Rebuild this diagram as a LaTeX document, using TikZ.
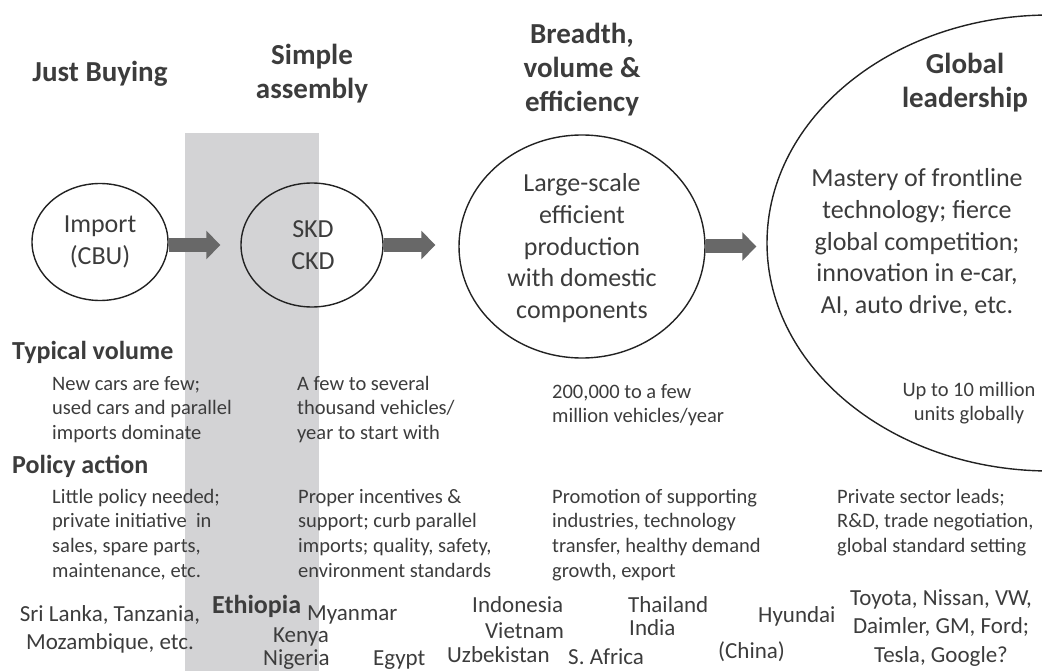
\documentclass[tikz,border=0pt]{standalone}
\usepackage{fontspec}
\setmainfont{Carlito}
\usetikzlibrary{shapes.geometric,arrows.meta}
\definecolor{txt}{HTML}{3C3C3C}
\definecolor{band}{HTML}{D3D3D5}
\definecolor{arr}{HTML}{686868}
\definecolor{edge}{HTML}{222222}
\newcommand\LeftLines[1]{\vtop{\halign{##\hfil\cr#1\crcr}}}
\newcommand\MidLines[1]{\vtop{\halign{\hfil##\hfil\cr#1\crcr}}}
\tikzset{
  head/.style={font=\fontsize{29}{34}\selectfont\bfseries, text=txt, inner sep=0, anchor=base},
  inner/.style={font=\fontsize{26}{31.6}\selectfont, text=txt, inner sep=0, anchor=base},
  rowlabel/.style={font=\fontsize{26}{30}\selectfont\bfseries, text=txt, inner sep=0, anchor=base west},
  body/.style={font=\fontsize{20.5}{24.8}\selectfont, text=txt, inner sep=0, anchor=base west},
  ctry/.style={font=\fontsize{23}{28.5}\selectfont, text=txt, inner sep=0, anchor=base west},
  oval/.style={ellipse, draw=edge, line width=1.4pt, inner sep=0},
  flow/.style={draw=arr, line width=14pt, -{Triangle[length=14pt,width=28pt,fill=arr]}}
}
\begin{document}
\begin{tikzpicture}[x=1pt,y=-1pt]
\useasboundingbox (0,0) rectangle (1042,671);
\clip (0,0) rectangle (1042,671);
\fill[band] (185,133) rectangle (319,671);
% ovals
\node[oval, minimum width=136, minimum height=117] (eImport) at (100,242) {};
\node[oval, minimum width=142, minimum height=124] (eSKD) at (312,245) {};
\node[oval, minimum width=246, minimum height=223] (eLarge) at (582,246.5) {};
\node[oval, minimum width=566, minimum height=456] (eGlobal) at (1050,243) {};
% arrows
\draw[flow, shorten >=20pt] (eSKD.west -| eImport.east) -- (eSKD.west);
\draw[flow, shorten >=23pt] (eSKD.east) -- (eSKD.east -| eLarge.west);
\draw[flow, shorten >=10pt] (eLarge.east) -- (eLarge.east -| eGlobal.west);
% headings
\node[head] (hBuy) at (100,82) {Just Buying};
\node[head] (hSimple) at (312,65) {\MidLines{Simple\cr assembly}};
\node[head] (hBreadth) at (582,44) {\MidLines{Breadth,\cr volume \&\cr efficiency}};
\node[head] (hGlobal) at (965,74) {\MidLines{Global\cr leadership}};
% oval texts
\node[inner] (tImport) at (100,233) {\MidLines{Import\cr (CBU)}};
\node[inner] (tSKD) at (313,238) {\MidLines{SKD\cr CKD}};
\node[inner] (tLarge) at (582,192) {\MidLines{Large-scale\cr efficient\cr production\cr with domestic\cr components}};
\node[inner] (tMastery) at (917,187) {\MidLines{Mastery of frontline\cr technology; fierce\cr global competition;\cr innovation in e-car,\cr AI, auto drive, etc.}};
% row labels
\node[rowlabel] (lVol) at (12,359) {Typical volume};
\node[rowlabel] (lPol) at (12,473) {Policy action};
% typical volume
\node[body] (v1) at (52,390) {\LeftLines{New cars are few;\cr used cars and parallel\cr imports dominate}};
\node[body] (v2) at (297,390) {\LeftLines{A few to several\cr thousand vehicles/\cr year to start with}};
\node[body] (v3) at (552,398) {\LeftLines{200,000 to a few\cr million vehicles/year}};
\node[body, anchor=base] (v4) at (969,396) {\MidLines{Up to 10 million\cr units globally}};
% policy action
\node[body] (p1) at (52,503) {\LeftLines{Little policy needed;\cr private initiative\ \ in\cr sales, spare parts,\cr maintenance, etc.}};
\node[body] (p2) at (298,503) {\LeftLines{Proper incentives \&\cr support; curb parallel\cr imports; quality, safety,\cr environment standards}};
\node[body] (p3) at (552,503) {\LeftLines{Promotion of supporting\cr industries, technology\cr transfer, healthy demand\cr growth, export}};
\node[body] (p4) at (837,503) {\LeftLines{Private sector leads;\cr R\&D, trade negotiation,\cr global standard setting}};
% countries
\node[ctry, anchor=base] (cSri) at (110,621) {\MidLines{Sri Lanka, Tanzania,\cr Mozambique, etc.}};
\node[ctry, font=\fontsize{26}{30}\selectfont\bfseries] (cEth) at (212,613) {Ethiopia};
\node[ctry] (cMya) at (307,620) {Myanmar};
\node[ctry] (cKen) at (273,642) {Kenya};
\node[ctry] (cNig) at (263,665) {Nigeria};
\node[ctry] (cEgy) at (373,665) {Egypt};
\node[ctry] (cIndo) at (472,612) {Indonesia};
\node[ctry] (cViet) at (485,638) {Vietnam};
\node[ctry] (cUzb) at (447,662) {Uzbekistan};
\node[ctry] (cSA) at (568,664) {S. Africa};
\node[ctry] (cThai) at (628,612) {Thailand};
\node[ctry] (cInd) at (629,635) {India};
\node[ctry] (cChina) at (718,658) {(China)};
\node[ctry] (cHyu) at (758,622) {Hyundai};
\node[ctry, anchor=base] (cToy) at (941,605) {\MidLines{Toyota, Nissan, VW,\cr Daimler, GM, Ford;\cr Tesla, Google?}};
\end{tikzpicture}
\end{document}
